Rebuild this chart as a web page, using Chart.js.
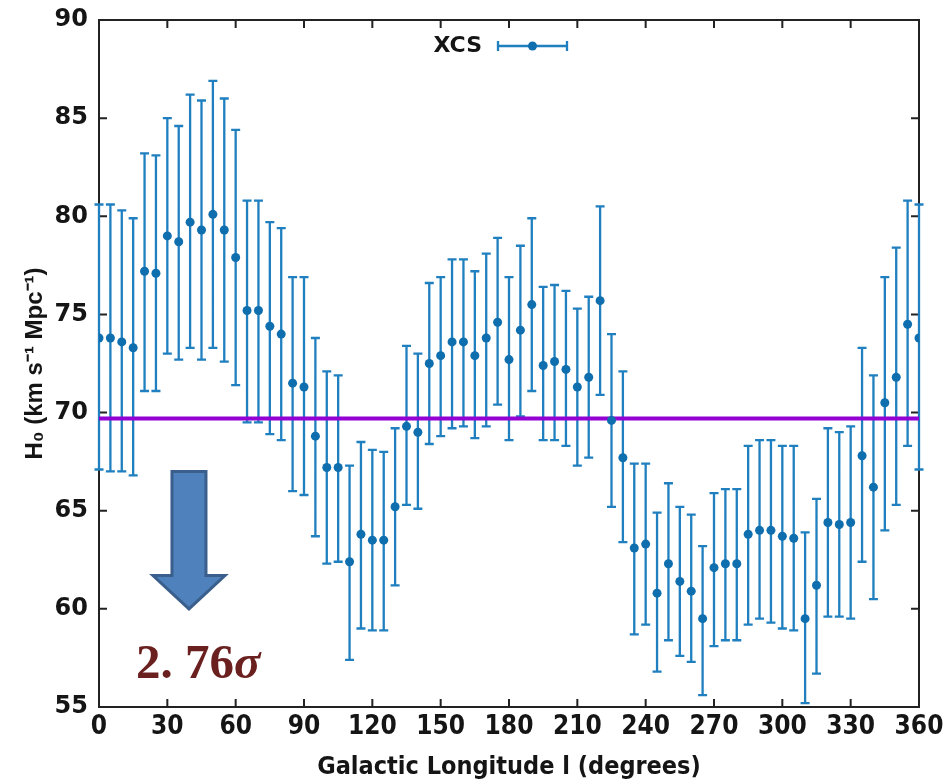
<!DOCTYPE html>
<html>
<head>
<meta charset="utf-8">
<script src="https://cdn.jsdelivr.net/npm/chart.js@4.4.1/dist/chart.umd.min.js"></script>
<style>
  html, body { margin: 0; padding: 0; background: #fff; }
  #wrap { width: 947px; height: 782px; }
</style>
</head>
<body>
<div id="wrap"><canvas id="h0_Chart" width="947" height="782"></canvas></div>
<script>
// galactic longitude of each bin (degrees)
const longitude = [
  0, 5, 10, 15, 20, 25, 30, 35, 40, 45, 50, 55, 60, 65, 70, 75, 80, 85, 90, 95,
  100, 105, 110, 115, 120, 125, 130, 135, 140, 145, 150, 155, 160, 165, 170, 175,
  180, 185, 190, 195, 200, 205, 210, 215, 220, 225, 230, 235, 240, 245, 250, 255,
  260, 265, 270, 275, 280, 285, 290, 295, 300, 305, 310, 315, 320, 325, 330, 335,
  340, 345, 350, 355, 360
];
// H0 best fit per bin
const h0_values = [
  73.8, 73.8, 73.6, 73.3, 77.2, 77.1, 79.0, 78.7, 79.7, 79.3, 80.1, 79.3, 77.9, 75.2, 75.2, 74.4, 74.0, 71.5, 71.3, 68.8,
  67.2, 67.2, 62.4, 63.8, 63.5, 63.5, 65.2, 69.3, 69.0, 72.5, 72.9, 73.6, 73.6, 72.9, 73.8, 74.6,
  72.7, 74.2, 75.5, 72.4, 72.6, 72.2, 71.3, 71.8, 75.7, 69.6, 67.7, 63.1, 63.3, 60.8, 62.3, 61.4,
  60.9, 59.5, 62.1, 62.3, 62.3, 63.8, 64.0, 64.0, 63.7, 63.6, 59.5, 61.2, 64.4, 64.3, 64.4, 67.8,
  66.2, 70.5, 71.8, 74.5, 73.8
];
// upper end of error bar
const h0_upper = [
  80.6, 80.6, 80.3, 79.9, 83.2, 83.1, 85.0, 84.6, 86.2, 85.9, 86.9, 86.0, 84.4, 80.8, 80.8, 79.7, 79.4, 76.9, 76.9, 73.8,
  72.1, 71.9, 67.3, 68.5, 68.1, 68.0, 69.2, 73.4, 73.0, 76.6, 76.9, 77.8, 77.8, 77.2, 78.1, 78.9,
  76.9, 78.5, 79.9, 76.4, 76.5, 76.2, 75.3, 75.9, 80.5, 74.0, 72.1, 67.4, 67.4, 64.9, 66.4, 65.2,
  64.8, 63.2, 65.9, 66.1, 66.1, 68.3, 68.6, 68.6, 68.3, 68.3, 63.9, 65.6, 69.2, 69.0, 69.3, 73.3,
  71.9, 76.9, 78.4, 80.8, 80.6
];
// lower end of error bar
const h0_lower = [
  67.1, 67.0, 67.0, 66.8, 71.1, 71.1, 73.0, 72.7, 73.3, 72.7, 73.3, 72.6, 71.4, 69.5, 69.5, 68.9, 68.6, 66.0, 65.8, 63.7,
  62.3, 62.4, 57.4, 59.0, 58.9, 58.9, 61.2, 65.3, 65.1, 68.4, 68.8, 69.2, 69.3, 68.7, 69.3, 70.4,
  68.6, 69.8, 71.1, 68.6, 68.6, 68.3, 67.3, 67.7, 70.9, 65.2, 63.4, 58.7, 59.2, 56.8, 58.4, 57.6,
  57.3, 55.6, 58.1, 58.4, 58.4, 59.2, 59.5, 59.3, 59.0, 58.9, 55.2, 56.7, 59.6, 59.6, 59.5, 62.4,
  60.5, 64.0, 65.3, 68.3, 67.1
];
const reference_h0 = 69.7;
const x_ticks = [0, 30, 60, 90, 120, 150, 180, 210, 240, 270, 300, 330, 360];
const y_ticks = [55, 60, 65, 70, 75, 80, 85, 90];

// annotation: arrow (data coords) + significance label
const arrow_l = 39.5, arrow_top = 67.0, arrow_neck = 61.7, arrow_tip = 60.0;
const sigma_l = 43.5, sigma_h0 = 56.5;
const sigma_num = '2. 76', sigma_sym = 'σ';

const bar_color = '#1f7fbf';
const dot_color = '#0f6eae';
const ink = '#151515';
const narrow = '"Liberation Sans Narrow", "DejaVu Sans Condensed", sans-serif';

const points = longitude.map((l, i) => ({x: l, y: h0_values[i]}));

const framePlugin = {
  id: 'frameAndBars',
  beforeDatasetsDraw(chart) {
    const {ctx, chartArea: a, scales: {x, y}} = chart;
    ctx.save();
    // frame with inward ticks on all sides
    ctx.strokeStyle = '#222';
    ctx.lineWidth = 2;
    ctx.strokeRect(a.left, a.top, a.right - a.left, a.bottom - a.top);
    ctx.beginPath();
    x.ticks.forEach(t => {
      const px = x.getPixelForValue(t.value);
      ctx.moveTo(px, a.bottom); ctx.lineTo(px, a.bottom - 8);
      ctx.moveTo(px, a.top); ctx.lineTo(px, a.top + 8);
    });
    y.ticks.forEach(t => {
      const py = y.getPixelForValue(t.value);
      ctx.moveTo(a.left, py); ctx.lineTo(a.left + 8, py);
      ctx.moveTo(a.right, py); ctx.lineTo(a.right - 8, py);
    });
    ctx.stroke();

    // error bars
    ctx.strokeStyle = bar_color;
    ctx.lineWidth = 2.3;
    ctx.beginPath();
    longitude.forEach((l, i) => {
      const px = x.getPixelForValue(l);
      const top = y.getPixelForValue(h0_upper[i]);
      const bot = y.getPixelForValue(h0_lower[i]);
      ctx.moveTo(px, top); ctx.lineTo(px, bot);
      ctx.moveTo(px - 4.5, top); ctx.lineTo(px + 4.5, top);
      ctx.moveTo(px - 4.5, bot); ctx.lineTo(px + 4.5, bot);
    });
    ctx.stroke();
    ctx.restore();
  },
  afterDatasetsDraw(chart) {
    const {ctx, chartArea: a, scales: {x, y}} = chart;
    ctx.save();

    // legend (gnuplot style: title then sample)
    const ly = a.top + 26;
    const lx = a.left + 383;
    ctx.fillStyle = ink;
    ctx.font = 'bold 22px "DejaVu Sans"';
    ctx.textAlign = 'right';
    ctx.textBaseline = 'middle';
    ctx.fillText('XCS', lx, ly);
    ctx.strokeStyle = bar_color;
    ctx.lineWidth = 2.3;
    ctx.beginPath();
    ctx.moveTo(lx + 16, ly); ctx.lineTo(lx + 85, ly);
    ctx.moveTo(lx + 16, ly - 5); ctx.lineTo(lx + 16, ly + 5);
    ctx.moveTo(lx + 85, ly - 5); ctx.lineTo(lx + 85, ly + 5);
    ctx.stroke();
    ctx.fillStyle = dot_color;
    ctx.beginPath();
    ctx.arc(lx + 50.5, ly, 4.5, 0, Math.PI * 2);
    ctx.fill();

    // arrow
    const ax = x.getPixelForValue(arrow_l);
    const aTop = y.getPixelForValue(arrow_top);
    const aNeck = y.getPixelForValue(arrow_neck);
    const aTip = y.getPixelForValue(arrow_tip);
    ctx.beginPath();
    ctx.moveTo(ax - 17, aTop);
    ctx.lineTo(ax + 17, aTop);
    ctx.lineTo(ax + 17, aNeck);
    ctx.lineTo(ax + 36, aNeck);
    ctx.lineTo(ax, aTip);
    ctx.lineTo(ax - 36, aNeck);
    ctx.lineTo(ax - 17, aNeck);
    ctx.closePath();
    ctx.fillStyle = '#4f81bd';
    ctx.fill();
    ctx.strokeStyle = '#3a5f8c';
    ctx.lineWidth = 3;
    ctx.lineJoin = 'miter';
    ctx.stroke();

    // significance label
    const sx = x.getPixelForValue(sigma_l);
    const sy = y.getPixelForValue(sigma_h0);
    ctx.fillStyle = '#6b2020';
    ctx.textBaseline = 'alphabetic';
    ctx.textAlign = 'left';
    ctx.font = 'bold 49px "Liberation Serif"';
    const w1 = ctx.measureText(sigma_num).width;
    ctx.font = 'italic bold 49px "Liberation Serif"';
    const w2 = ctx.measureText(sigma_sym).width;
    const start = sx - (w1 + w2) / 2;
    ctx.font = 'bold 49px "Liberation Serif"';
    ctx.fillText(sigma_num, start, sy);
    ctx.font = 'italic bold 49px "Liberation Serif"';
    ctx.fillText(sigma_sym, start + w1, sy);
    ctx.restore();
  }
};

const config_scatter = {
  type: 'scatter',
  data: {
    datasets: [{
      label: 'XCS',
      data: points,
      pointRadius: 4.5,
      pointHoverRadius: 4.5,
      backgroundColor: dot_color,
      borderWidth: 0,
      order: 0
    }, {
      type: 'line',
      label: 'reference',
      data: [{x: 0, y: reference_h0}, {x: 360, y: reference_h0}],
      borderColor: '#9400d3',
      borderWidth: 4,
      pointRadius: 0,
      order: 1
    }]
  },
  options: {
    responsive: false,
    animation: false,
    layout: {padding: {top: 20, right: 28, left: 0, bottom: 0}},
    plugins: {
      legend: {display: false},
      tooltip: {enabled: false}
    },
    scales: {
      x: {
        type: 'linear',
        min: 0,
        max: 360,
        grid: {display: false},
        border: {display: false},
        afterBuildTicks: (s) => { s.ticks = x_ticks.map(v => ({value: v})); },
        afterFit: (s) => { s.height = 75; },
        ticks: {
          color: ink,
          padding: -3,
          maxRotation: 0,
          autoSkip: false,
          font: {family: narrow, weight: 'bold', size: 26}
        },
        title: {
          display: true,
          text: 'Galactic Longitude l (degrees)',
          color: ink,
          padding: {top: 0, bottom: 0},
          font: {family: narrow, weight: 'bold', size: 25}
        }
      },
      y: {
        min: 55,
        max: 90,
        grid: {display: false},
        border: {display: false},
        afterBuildTicks: (s) => { s.ticks = y_ticks.map(v => ({value: v})); },
        afterFit: (s) => { s.width = 99; },
        ticks: {
          color: ink,
          padding: 3,
          font: {family: '"DejaVu Sans"', weight: 'bold', size: 24}
        },
        title: {
          display: true,
          text: 'H₀ (km s⁻¹ Mpc⁻¹)',
          color: ink,
          padding: {top: 21, bottom: 0},
          font: {family: '"Liberation Sans", Arial, sans-serif', weight: 'bold', size: 24}
        }
      }
    }
  },
  plugins: [framePlugin]
};

let myChart = new Chart(
  document.getElementById('h0_Chart'),
  config_scatter
);
</script>
</body>
</html>
